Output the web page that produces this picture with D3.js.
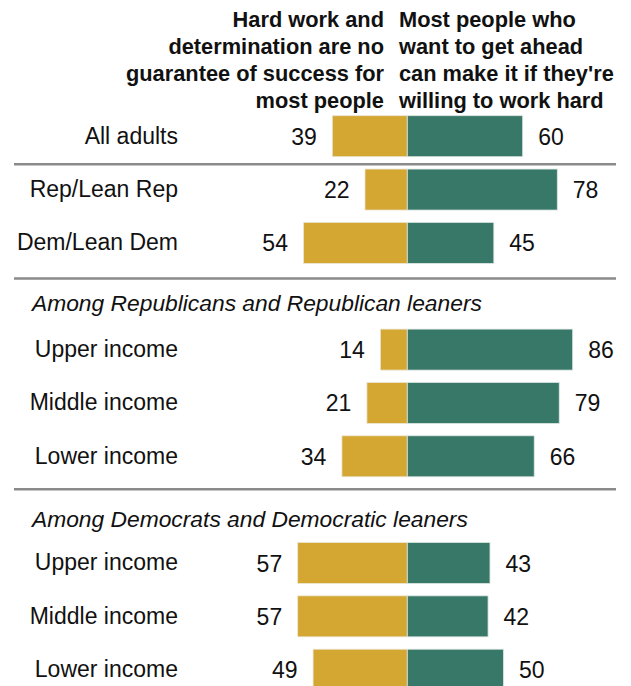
<!DOCTYPE html>
<html>
<head>
<meta charset="utf-8">
<script src="https://cdn.jsdelivr.net/npm/d3@7"></script>
<style>
  html, body { margin: 0; padding: 0; background: #fff; }
  svg { display: block; }
  text { font-family: "Liberation Sans", Arial, sans-serif; fill: #111; }
</style>
</head>
<body>
<svg id="chart" width="631" height="686"></svg>
<script>
// Row layout: group rows and the two italic subgroup headings share one band grid
const rowKeys = ["all", "rep", "dem", "hRep", "repUp", "repMid", "repLow", "hDem", "demUp", "demMid", "demLow"];

// Bar rows
const categories = ["All adults", "Rep/Lean Rep", "Dem/Lean Dem",
  "Upper income", "Middle income", "Lower income",
  "Upper income", "Middle income", "Lower income"];
const categoryRows = ["all", "rep", "dem", "repUp", "repMid", "repLow", "demUp", "demMid", "demLow"];

// % saying hard work is no guarantee of success (left, gold)
const noGuarantee = [39, 22, 54, 14, 21, 34, 57, 57, 49];
// % saying most people can get ahead if willing to work hard (right, green)
const canGetAhead = [60, 78, 45, 86, 79, 66, 43, 42, 50];

// Subgroup headings
const headingRows = ["hRep", "hDem"];
const headingLabels = ["Among Republicans and Republican leaners", "Among Democrats and Democratic leaners"];

// Column headers
const leftHeader = ["Hard work and", "determination are no", "guarantee of success for", "most people"];
const rightHeader = ["Most people who", "want to get ahead", "can make it if they're", "willing to work hard"];

const colors = { left: "#d4a732", right: "#387868" };

const svg = d3.select("#chart");

const x0 = 407.3;            // shared baseline between the two bar directions
const x = d3.scaleLinear().domain([0, 100]).range([0, 192.3]);

const step = 53.35;
const pad = 1 - 41 / step;
const y = d3.scaleBand()
  .domain(rowKeys)
  .range([136.2 - step / 2, 136.2 - step / 2 + step * rowKeys.length])
  .paddingInner(pad)
  .paddingOuter(pad / 2);
const bw = y.bandwidth();
const cy = k => y(k) + bw / 2;

const rows = categories.map((c, i) => ({
  key: categoryRows[i], label: c, left: noGuarantee[i], right: canGetAhead[i]
}));

// Column headers
const hdr = svg.append("g").attr("font-weight", "bold").attr("font-size", "21.8px");
hdr.selectAll("text.lh").data(leftHeader).join("text")
  .attr("class", "lh")
  .attr("x", 384).attr("y", (d, i) => 27 + i * 27)
  .attr("text-anchor", "end")
  .text(d => d);
hdr.selectAll("text.rh").data(rightHeader).join("text")
  .attr("class", "rh")
  .attr("x", 399).attr("y", (d, i) => 27 + i * 27)
  .attr("text-anchor", "start")
  .text(d => d);

// Section dividers
const dividers = [
  { after: "all", offset: 7.5 },
  { after: "dem", offset: 15 },
  { after: "repLow", offset: 12.5 }
];
svg.selectAll("line.div").data(dividers).join("line")
  .attr("class", "div")
  .attr("x1", 14).attr("x2", 616)
  .attr("y1", d => y(d.after) + bw + d.offset)
  .attr("y2", d => y(d.after) + bw + d.offset)
  .attr("stroke", "#8a8a8a")
  .attr("stroke-width", 2.5);

// Subgroup headings
svg.selectAll("text.heading").data(headingRows).join("text")
  .attr("class", "heading")
  .attr("x", 32)
  .attr("y", (d, i) => cy(d) + (i === 0 ? 14.7 : 17.5))
  .attr("font-style", "italic")
  .attr("font-size", "22.8px")
  .text((d, i) => headingLabels[i]);

// Bars
const rowG = svg.selectAll("g.row").data(rows).join("g").attr("class", "row");

rowG.append("rect")
  .attr("x", d => x0 - x(d.left))
  .attr("y", d => y(d.key))
  .attr("width", d => x(d.left))
  .attr("height", bw)
  .attr("fill", colors.left)
  .attr("stroke", "#ece6d6").attr("stroke-width", 0.8);

rowG.append("rect")
  .attr("x", x0)
  .attr("y", d => y(d.key))
  .attr("width", d => x(d.right))
  .attr("height", bw)
  .attr("fill", colors.right)
  .attr("stroke", "#dde6e2").attr("stroke-width", 0.8);

// Category labels
rowG.append("text")
  .attr("x", 178)
  .attr("y", d => cy(d.key) + 7.4)
  .attr("text-anchor", "end")
  .attr("font-size", "23px")
  .text(d => d.label);

// Value labels
rowG.append("text")
  .attr("x", d => x0 - x(d.left) - 15.5)
  .attr("y", d => cy(d.key) + 8.5)
  .attr("text-anchor", "end")
  .attr("font-size", "23px")
  .text(d => d.left);

rowG.append("text")
  .attr("x", d => x0 + x(d.right) + 15.5)
  .attr("y", d => cy(d.key) + 8.5)
  .attr("text-anchor", "start")
  .attr("font-size", "23px")
  .text(d => d.right);
</script>
</body>
</html>
